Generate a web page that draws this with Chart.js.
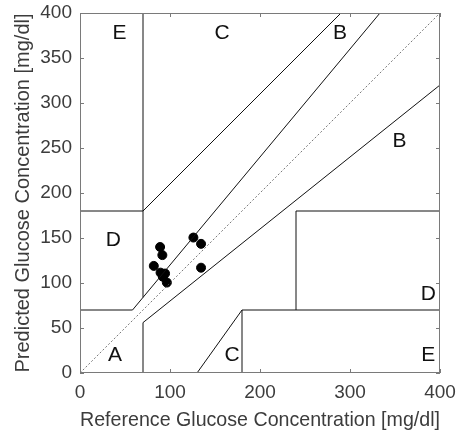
<!DOCTYPE html>
<html>
<head>
<meta charset="utf-8">
<script src="https://cdn.jsdelivr.net/npm/chart.js@4/dist/chart.umd.min.js"></script>
<style>
  html, body { margin: 0; padding: 0; background: #fff; }
  #wrap { width: 457px; height: 435px; }
</style>
</head>
<body>
<div id="wrap"><canvas id="grid"></canvas></div>
<script>
// measured pairs (reference, predicted) in mg/dl
const refValues  = [89, 91.5, 126, 134.5, 82, 134.5, 89.5, 94.5, 92, 96.5];
const predValues = [140, 131, 150.5, 143.5, 119, 117, 111.5, 110.5, 107, 100.5];

// clarke grid zone boundaries, each one a [x0, y0, x1, y1] segment
const zoneLines = [
  [0, 70, 175 / 3, 70],
  [175 / 3, 70, 400 / 1.2, 400],
  [70, 84, 70, 400],
  [0, 180, 70, 180],
  [70, 180, 290, 400],
  [70, 0, 70, 56],
  [70, 56, 400, 320],
  [180, 0, 180, 70],
  [180, 70, 400, 70],
  [240, 70, 240, 180],
  [240, 180, 400, 180],
  [130, 0, 180, 70]
];

const zoneNames = ['E', 'C', 'B', 'B', 'D', 'D', 'A', 'C', 'E'];
const zoneNameX = [44, 158, 289, 355, 37, 387, 39, 169, 387];
const zoneNameY = [378, 378, 378, 257, 147, 87, 20, 20, 20];

const axisTicks = [0, 50, 100, 150, 200, 250, 300, 350, 400];
const xLabelTicks = [0, 100, 200, 300, 400];

const FONT = "'Liberation Sans', Arial, sans-serif";

const datasets = [];
datasets.push({
  label: 'ideal',
  data: [{x: 0, y: 0}, {x: 400, y: 400}],
  showLine: true,
  borderColor: '#555',
  borderWidth: 0.8,
  borderDash: [2, 2],
  pointRadius: 0
});
zoneLines.forEach(function (seg, i) {
  datasets.push({
    label: 'zone' + i,
    data: [{x: seg[0], y: seg[1]}, {x: seg[2], y: seg[3]}],
    showLine: true,
    borderColor: '#111',
    borderWidth: 1,
    pointRadius: 0
  });
});
datasets.push({
  label: 'samples',
  data: refValues.map((r, i) => ({x: r, y: predValues[i]})),
  showLine: false,
  backgroundColor: '#000',
  borderColor: '#000',
  pointRadius: 4.5,
  pointHoverRadius: 4.5
});

// box around the plot with inward ticks on all four sides, plus zone letters
const gridDecor = {
  id: 'gridDecor',
  afterDatasetsDraw(chart) {
    const ctx = chart.ctx;
    const a = chart.chartArea;
    const xs = chart.scales.x, ys = chart.scales.y;
    ctx.save();
    ctx.strokeStyle = '#7a7a7a';
    ctx.lineWidth = 1;
    ctx.strokeRect(a.left + 0.5, a.top + 0.5, a.right - a.left - 1, a.bottom - a.top - 1);
    ctx.beginPath();
    xLabelTicks.forEach(function (v) {
      const px = Math.round(xs.getPixelForValue(v)) + 0.5;
      ctx.moveTo(px, a.bottom); ctx.lineTo(px, a.bottom - 4);
      ctx.moveTo(px, a.top); ctx.lineTo(px, a.top + 4);
    });
    axisTicks.forEach(function (v) {
      const py = Math.round(ys.getPixelForValue(v)) + 0.5;
      ctx.moveTo(a.left, py); ctx.lineTo(a.left + 4, py);
      ctx.moveTo(a.right, py); ctx.lineTo(a.right - 4, py);
    });
    ctx.stroke();

    ctx.fillStyle = '#111';
    ctx.font = '21px ' + FONT;
    ctx.textAlign = 'center';
    ctx.textBaseline = 'middle';
    zoneNames.forEach(function (t, i) {
      ctx.fillText(t, xs.getPixelForValue(zoneNameX[i]), ys.getPixelForValue(zoneNameY[i]));
    });
    ctx.restore();
  }
};

new Chart(document.getElementById('grid'), {
  type: 'scatter',
  data: { datasets: datasets },
  options: {
    responsive: true,
    maintainAspectRatio: false,
    animation: false,
    events: [],
    layout: { padding: { left: 0, top: 13, right: 17, bottom: 0 } },
    plugins: { legend: { display: false }, tooltip: { enabled: false } },
    scales: {
      x: {
        type: 'linear', min: 0, max: 400,
        afterBuildTicks(scale) { scale.ticks = xLabelTicks.map(v => ({value: v})); },
        afterFit(scale) { scale.height = 62; scale.paddingLeft = 0; scale.paddingRight = 0; },
        grid: { display: false, drawTicks: false },
        border: { display: false },
        ticks: { color: '#3c3c3c', font: { family: FONT, size: 19 }, padding: 8, maxRotation: 0 },
        title: { display: true, text: 'Reference Glucose Concentration [mg/dl]', color: '#3c3c3c',
                 font: { family: FONT, size: 21 }, padding: { top: 0, bottom: 2 } }
      },
      y: {
        type: 'linear', min: 0, max: 400,
        afterBuildTicks(scale) { scale.ticks = axisTicks.map(v => ({value: v})); },
        afterFit(scale) { scale.width = 80; scale.paddingTop = 0; scale.paddingBottom = 0; },
        grid: { display: false, drawTicks: false },
        border: { display: false },
        ticks: { color: '#3c3c3c', font: { family: FONT, size: 19 }, padding: 8 },
        title: { display: true, text: 'Predicted Glucose Concentration [mg/dl]', color: '#3c3c3c',
                 font: { family: FONT, size: 20 }, padding: { top: 11, bottom: 0 } }
      }
    }
  },
  plugins: [gridDecor]
});
</script>
</body>
</html>
